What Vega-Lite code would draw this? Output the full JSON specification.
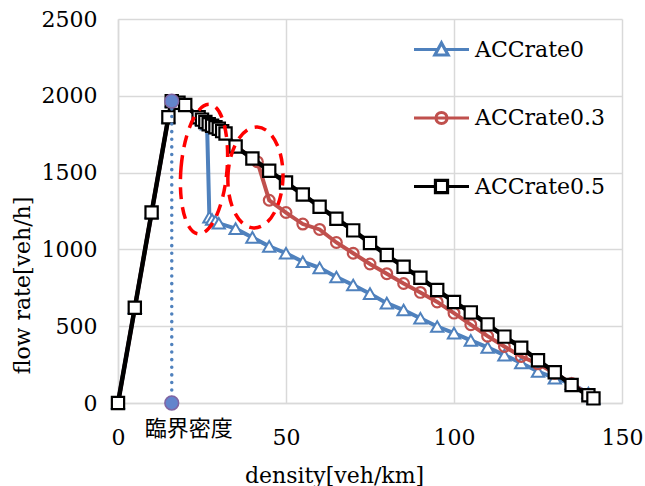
{
  "$schema": "https://vega.github.io/schema/vega-lite/v6.json",
  "width": 504,
  "height": 384,
  "autosize": {"type": "none"},
  "padding": {"left": 118, "top": 19, "right": 23, "bottom": 83},
  "background": "white",
  "config": {
    "view": {"stroke": null},
    "axis": {
      "labelFont": "DejaVu Serif",
      "labelFontSize": 22,
      "labelColor": "#000000",
      "labelFlush": false,
      "labelOverlap": false,
      "titleFont": "DejaVu Serif",
      "titleFontSize": 22,
      "titleFontWeight": "normal",
      "titleColor": "#000000",
      "gridColor": "#d9d9d9",
      "gridWidth": 1.5,
      "domainColor": "#d9d9d9",
      "domainWidth": 1.5,
      "ticks": false
    },
    "legend": {
      "labelFont": "DejaVu Serif",
      "labelFontSize": 22,
      "labelColor": "#000000"
    }
  },
  "datasets": {
    "curves": [
      {"series": "ACCrate0", "x": 0, "y": 0},
      {"series": "ACCrate0", "x": 5, "y": 620},
      {"series": "ACCrate0", "x": 10, "y": 1240},
      {"series": "ACCrate0", "x": 15, "y": 1860},
      {"series": "ACCrate0", "x": 16, "y": 1965},
      {"series": "ACCrate0", "x": 18, "y": 1955},
      {"series": "ACCrate0", "x": 20, "y": 1940},
      {"series": "ACCrate0", "x": 24, "y": 1860},
      {"series": "ACCrate0", "x": 25, "y": 1845},
      {"series": "ACCrate0", "x": 26, "y": 1830},
      {"series": "ACCrate0", "x": 26.5, "y": 1815},
      {"series": "ACCrate0", "x": 27.2, "y": 1210},
      {"series": "ACCrate0", "x": 28, "y": 1195},
      {"series": "ACCrate0", "x": 29, "y": 1185},
      {"series": "ACCrate0", "x": 30, "y": 1170},
      {"series": "ACCrate0", "x": 35, "y": 1135},
      {"series": "ACCrate0", "x": 40, "y": 1078},
      {"series": "ACCrate0", "x": 45, "y": 1020},
      {"series": "ACCrate0", "x": 50, "y": 975},
      {"series": "ACCrate0", "x": 55, "y": 920},
      {"series": "ACCrate0", "x": 60, "y": 880},
      {"series": "ACCrate0", "x": 65, "y": 820},
      {"series": "ACCrate0", "x": 70, "y": 768},
      {"series": "ACCrate0", "x": 75, "y": 712},
      {"series": "ACCrate0", "x": 80, "y": 650},
      {"series": "ACCrate0", "x": 85, "y": 605},
      {"series": "ACCrate0", "x": 90, "y": 552},
      {"series": "ACCrate0", "x": 95, "y": 498},
      {"series": "ACCrate0", "x": 100, "y": 455},
      {"series": "ACCrate0", "x": 105, "y": 408},
      {"series": "ACCrate0", "x": 110, "y": 362},
      {"series": "ACCrate0", "x": 115, "y": 312},
      {"series": "ACCrate0", "x": 120, "y": 260},
      {"series": "ACCrate0", "x": 125, "y": 205},
      {"series": "ACCrate0", "x": 130, "y": 162},
      {"series": "ACCrate0", "x": 135, "y": 125},
      {"series": "ACCrate0", "x": 140, "y": 65},
      {"series": "ACCrate0", "x": 141.5, "y": 30},
      {"series": "ACCrate0.3", "x": 0, "y": 0},
      {"series": "ACCrate0.3", "x": 5, "y": 620},
      {"series": "ACCrate0.3", "x": 10, "y": 1240},
      {"series": "ACCrate0.3", "x": 15, "y": 1860},
      {"series": "ACCrate0.3", "x": 16, "y": 1965},
      {"series": "ACCrate0.3", "x": 18, "y": 1955},
      {"series": "ACCrate0.3", "x": 20, "y": 1940},
      {"series": "ACCrate0.3", "x": 24, "y": 1860},
      {"series": "ACCrate0.3", "x": 25, "y": 1845},
      {"series": "ACCrate0.3", "x": 26, "y": 1830},
      {"series": "ACCrate0.3", "x": 27, "y": 1815},
      {"series": "ACCrate0.3", "x": 28, "y": 1805},
      {"series": "ACCrate0.3", "x": 29, "y": 1795},
      {"series": "ACCrate0.3", "x": 30, "y": 1785},
      {"series": "ACCrate0.3", "x": 31, "y": 1770},
      {"series": "ACCrate0.3", "x": 32, "y": 1755},
      {"series": "ACCrate0.3", "x": 35, "y": 1670},
      {"series": "ACCrate0.3", "x": 40, "y": 1592},
      {"series": "ACCrate0.3", "x": 41.5, "y": 1570},
      {"series": "ACCrate0.3", "x": 45, "y": 1320},
      {"series": "ACCrate0.3", "x": 50, "y": 1240},
      {"series": "ACCrate0.3", "x": 55, "y": 1165},
      {"series": "ACCrate0.3", "x": 60, "y": 1130},
      {"series": "ACCrate0.3", "x": 65, "y": 1045},
      {"series": "ACCrate0.3", "x": 70, "y": 975},
      {"series": "ACCrate0.3", "x": 75, "y": 905},
      {"series": "ACCrate0.3", "x": 80, "y": 842},
      {"series": "ACCrate0.3", "x": 85, "y": 778},
      {"series": "ACCrate0.3", "x": 90, "y": 720},
      {"series": "ACCrate0.3", "x": 95, "y": 658},
      {"series": "ACCrate0.3", "x": 100, "y": 585},
      {"series": "ACCrate0.3", "x": 105, "y": 510},
      {"series": "ACCrate0.3", "x": 110, "y": 435},
      {"series": "ACCrate0.3", "x": 115, "y": 368},
      {"series": "ACCrate0.3", "x": 120, "y": 303},
      {"series": "ACCrate0.3", "x": 125, "y": 255},
      {"series": "ACCrate0.3", "x": 130, "y": 193},
      {"series": "ACCrate0.3", "x": 135, "y": 128},
      {"series": "ACCrate0.3", "x": 140, "y": 55},
      {"series": "ACCrate0.3", "x": 141.5, "y": 30},
      {"series": "ACCrate0.5", "x": 0, "y": 0},
      {"series": "ACCrate0.5", "x": 5, "y": 620},
      {"series": "ACCrate0.5", "x": 10, "y": 1240},
      {"series": "ACCrate0.5", "x": 15, "y": 1860},
      {"series": "ACCrate0.5", "x": 16, "y": 1965},
      {"series": "ACCrate0.5", "x": 18, "y": 1955},
      {"series": "ACCrate0.5", "x": 20, "y": 1940},
      {"series": "ACCrate0.5", "x": 24, "y": 1860},
      {"series": "ACCrate0.5", "x": 25, "y": 1845},
      {"series": "ACCrate0.5", "x": 26, "y": 1830},
      {"series": "ACCrate0.5", "x": 27, "y": 1815},
      {"series": "ACCrate0.5", "x": 28, "y": 1805},
      {"series": "ACCrate0.5", "x": 29, "y": 1795},
      {"series": "ACCrate0.5", "x": 30, "y": 1785},
      {"series": "ACCrate0.5", "x": 31, "y": 1770},
      {"series": "ACCrate0.5", "x": 32, "y": 1755},
      {"series": "ACCrate0.5", "x": 35, "y": 1670},
      {"series": "ACCrate0.5", "x": 40, "y": 1592},
      {"series": "ACCrate0.5", "x": 45, "y": 1512},
      {"series": "ACCrate0.5", "x": 50, "y": 1435},
      {"series": "ACCrate0.5", "x": 55, "y": 1358},
      {"series": "ACCrate0.5", "x": 60, "y": 1278},
      {"series": "ACCrate0.5", "x": 65, "y": 1200},
      {"series": "ACCrate0.5", "x": 70, "y": 1124},
      {"series": "ACCrate0.5", "x": 75, "y": 1042},
      {"series": "ACCrate0.5", "x": 80, "y": 963},
      {"series": "ACCrate0.5", "x": 85, "y": 887},
      {"series": "ACCrate0.5", "x": 90, "y": 815},
      {"series": "ACCrate0.5", "x": 95, "y": 736},
      {"series": "ACCrate0.5", "x": 100, "y": 658},
      {"series": "ACCrate0.5", "x": 105, "y": 590},
      {"series": "ACCrate0.5", "x": 110, "y": 512},
      {"series": "ACCrate0.5", "x": 115, "y": 432},
      {"series": "ACCrate0.5", "x": 120, "y": 360},
      {"series": "ACCrate0.5", "x": 125, "y": 278},
      {"series": "ACCrate0.5", "x": 130, "y": 200},
      {"series": "ACCrate0.5", "x": 135, "y": 117},
      {"series": "ACCrate0.5", "x": 140, "y": 50},
      {"series": "ACCrate0.5", "x": 141.5, "y": 30}
    ],
    "critical": [
      {"x": 16, "y": 1965, "label": ""},
      {"x": 16, "y": 0, "label": "臨界密度"}
    ],
    "ellipses": [
      {"id": 1, "x": 25.6, "y": 1523},
      {"id": 2, "x": 40.9, "y": 1468}
    ]
  },
  "encoding": {
    "x": {
      "field": "x", "type": "quantitative",
      "scale": {"domain": [0, 150], "nice": false},
      "axis": {
        "values": [0, 50, 100, 150],
        "format": "d",
        "title": "density[veh/km]",
        "labelPadding": 24,
        "titleX": 216,
        "titleY": 79,
        "titleBaseline": "alphabetic",
        "titleAlign": "center"
      }
    },
    "y": {
      "field": "y", "type": "quantitative",
      "scale": {"domain": [0, 2500], "nice": false},
      "axis": {
        "values": [0, 500, 1000, 1500, 2000, 2500],
        "format": "d",
        "title": "flow rate[veh/h]",
        "labelPadding": 21,
        "titleX": -96,
        "titleY": 266,
        "titleAngle": -90,
        "titleAlign": "center",
        "titleBaseline": "middle"
      }
    }
  },
  "layer": [
    {
      "data": {"name": "curves"},
      "transform": [{"filter": "datum.series === 'ACCrate0'"}],
      "mark": {"type": "line", "strokeWidth": 4},
      "encoding": {
        "color": {
          "field": "series", "type": "nominal",
          "scale": {"domain": ["ACCrate0", "ACCrate0.3", "ACCrate0.5"], "range": ["#4f81bd", "#c0504d", "#000000"]},
          "legend": {
            "title": null,
            "orient": "none",
            "legendX": 294,
            "legendY": 1,
            "padding": 0,
            "symbolSize": 3025,
            "symbolStrokeWidth": 3,
            "labelOffset": 4,
            "rowPadding": 26.5,
            "encode": {
              "symbols": {
                "update": {
                  "shape": {"signal": "datum.value === 'ACCrate0' ? 'M-1,0H-0.13M0.13,0H1M0,-0.24L0.24,0.2L-0.24,0.2Z' : datum.value === 'ACCrate0.3' ? 'M-1,0H1M0.2,0A0.2,0.2,0,1,1,-0.2,0A0.2,0.2,0,1,1,0.2,0Z' : 'M-1,0H-0.22M0.22,0H1M-0.22,-0.22H0.22V0.22H-0.22Z'"},
                  "fill": {"value": "transparent"},
                  "strokeWidth": {"value": 3.2},
                  "size": {"value": 3025}
                }
              }
            }
          }
        }
      }
    },
    {
      "data": {"name": "curves"},
      "transform": [{"filter": "datum.series === 'ACCrate0'"}],
      "mark": {"type": "point", "shape": "triangle-up", "filled": true, "fill": "white", "stroke": "#4f81bd", "strokeWidth": 2, "size": 150, "opacity": 1}
    },
    {
      "data": {"name": "curves"},
      "transform": [{"filter": "datum.series === 'ACCrate0.3'"}],
      "mark": {"type": "line", "strokeWidth": 4},
      "encoding": {
        "color": {"field": "series", "type": "nominal"}
      }
    },
    {
      "data": {"name": "curves"},
      "transform": [{"filter": "datum.series === 'ACCrate0.3'"}],
      "mark": {"type": "point", "shape": "circle", "filled": false, "stroke": "#c0504d", "strokeWidth": 2.2, "size": 115, "opacity": 1}
    },
    {
      "data": {"name": "curves"},
      "transform": [{"filter": "datum.series === 'ACCrate0.5'"}],
      "mark": {"type": "line", "strokeWidth": 4.5},
      "encoding": {
        "color": {"field": "series", "type": "nominal"}
      }
    },
    {
      "data": {"name": "curves"},
      "transform": [{"filter": "datum.series === 'ACCrate0.5'"}],
      "mark": {"type": "point", "shape": "square", "filled": true, "fill": "white", "stroke": "#000000", "strokeWidth": 2.2, "size": 150, "opacity": 1}
    },
    {
      "data": {"name": "critical"},
      "mark": {"type": "line", "stroke": "#4f81bd", "strokeWidth": 3.5, "strokeDash": [0.1, 7.5], "strokeCap": "round"},
      "encoding": {}
    },
    {
      "data": {"name": "critical"},
      "mark": {"type": "point", "shape": "circle", "filled": true, "fill": "#6384cc", "stroke": "#8064a2", "strokeWidth": 1.5, "size": 190, "opacity": 1}
    },
    {
      "data": {"name": "critical"},
      "mark": {"type": "text", "font": "Noto Sans CJK JP", "fontSize": 22, "color": "#000000", "align": "center", "baseline": "middle", "dx": 17, "dy": 26},
      "encoding": {"text": {"field": "label"}}
    },
    {
      "data": {"name": "ellipses"},
      "transform": [{"filter": "datum.id === 1"}],
      "mark": {"type": "point", "shape": "M-0.354,0A0.354,1,0,1,1,0.354,0A0.354,1,0,1,1,-0.354,0Z", "size": 16900, "angle": 5, "filled": false, "stroke": "#ff0000", "strokeWidth": 3.5, "strokeDash": [12, 8], "opacity": 1}
    },
    {
      "data": {"name": "ellipses"},
      "transform": [{"filter": "datum.id === 2"}],
      "mark": {"type": "point", "shape": "M-0.545,0A0.545,1,0,1,1,0.545,0A0.545,1,0,1,1,-0.545,0Z", "size": 10201, "angle": 2, "filled": false, "stroke": "#ff0000", "strokeWidth": 3.5, "strokeDash": [12, 8], "opacity": 1}
    }
  ]
}
